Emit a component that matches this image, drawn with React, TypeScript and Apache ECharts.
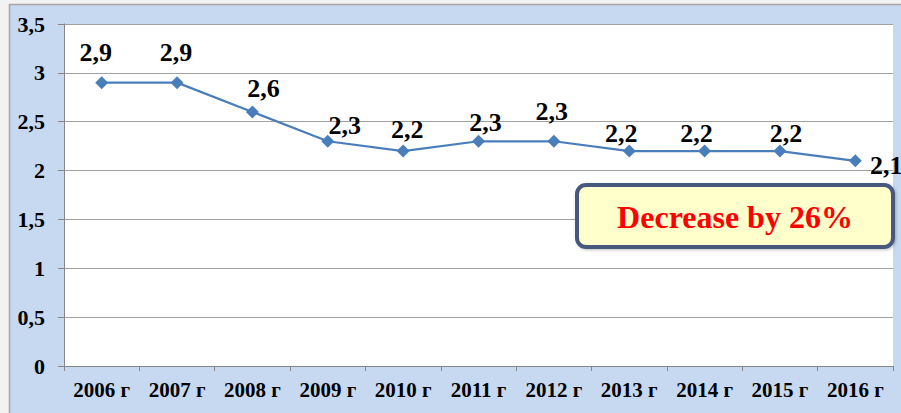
import React, { useEffect, useRef } from "react";
import * as echarts from "echarts";

const categories = ["2006 г", "2007 г", "2008 г", "2009 г", "2010 г", "2011 г", "2012 г", "2013 г", "2014 г", "2015 г", "2016 г"];
const values = [2.9, 2.9, 2.6, 2.3, 2.2, 2.3, 2.3, 2.2, 2.2, 2.2, 2.1];
const labelOffsets: [number, number][] = [
  [-6, -30], [-1, -30], [11, -23], [17, -16], [4, -22], [7, -19],
  [-2, -30], [-8, -18], [-8, -18], [6, -18], [31, 5],
];
const calloutText = "Decrease by 26%";

const fmt = (v: number) => String(v).replace(".", ",");
const FONT = "Liberation Serif";

export default function App() {
  const ref = useRef<HTMLDivElement>(null);
  useEffect(() => {
    if (!ref.current) return;
    const chart = echarts.init(ref.current, null, { renderer: "svg" });
    chart.setOption({
      animation: false,
      backgroundColor: "#f2f2f2",
      textStyle: { fontFamily: FONT },
      graphic: [
        {
          type: "rect",
          z: -10,
          shape: { x: 9.5, y: 4.5, width: 900, height: 420 },
          style: { fill: "#c6d9f1", stroke: "#a6a6a6", lineWidth: 1.5 },
        },
        {
          type: "rect",
          z: 100,
          shape: { x: 577, y: 185, width: 316, height: 62, r: 9 },
          style: {
            fill: "#ffffcc",
            stroke: "#46587f",
            lineWidth: 4,
            shadowColor: "rgba(0,0,0,0.25)",
            shadowBlur: 3,
            shadowOffsetX: 1,
            shadowOffsetY: 1,
          },
        },
        {
          type: "text",
          z: 101,
          x: 735,
          y: 217,
          style: {
            text: calloutText,
            fill: "#ff0000",
            fontFamily: FONT,
            fontWeight: "bold",
            fontSize: 32,
            align: "center",
            verticalAlign: "middle",
          },
        },
      ],
      grid: {
        left: 64,
        top: 24,
        right: 8,
        bottom: 47,
        show: true,
        backgroundColor: "#ffffff",
        borderWidth: 0,
      },
      xAxis: {
        type: "category",
        data: categories,
        boundaryGap: true,
        axisLine: { lineStyle: { color: "#868686", width: 1 } },
        axisTick: { show: true, length: 5, lineStyle: { color: "#868686" } },
        axisLabel: {
          color: "#000",
          fontFamily: FONT,
          fontWeight: "bold",
          fontSize: 21,
          margin: 13,
          interval: 0,
        },
      },
      yAxis: {
        type: "value",
        min: 0,
        max: 3.5,
        interval: 0.5,
        axisLine: { show: true, lineStyle: { color: "#868686", width: 1 } },
        axisTick: { show: true, length: 6, lineStyle: { color: "#868686" } },
        splitLine: { show: true, lineStyle: { color: "#a0a0a0", width: 1 } },
        axisLabel: {
          color: "#000",
          fontFamily: FONT,
          fontWeight: "bold",
          fontSize: 22,
          margin: 19,
          formatter: (v: number) => fmt(v),
        },
      },
      series: [
        {
          type: "line",
          data: values.map((v, i) => ({
            value: v,
            label: { offset: labelOffsets[i] },
          })),
          symbol: "diamond",
          symbolSize: 13,
          lineStyle: { color: "#4a7ebb", width: 2.25 },
          itemStyle: { color: "#4a7ebb" },
          label: {
            show: true,
            position: "inside",
            color: "#000",
            fontFamily: FONT,
            fontWeight: "bold",
            fontSize: 26,
            formatter: (p: any) => fmt(p.value),
          },
          z: 5,
        },
      ],
    });
    return () => chart.dispose();
  }, []);
  return (
    <div style={{ position: "fixed", left: 0, top: 0, width: 901, height: 413 }}>
      <div ref={ref} style={{ width: 901, height: 413 }} />
    </div>
  );
}
